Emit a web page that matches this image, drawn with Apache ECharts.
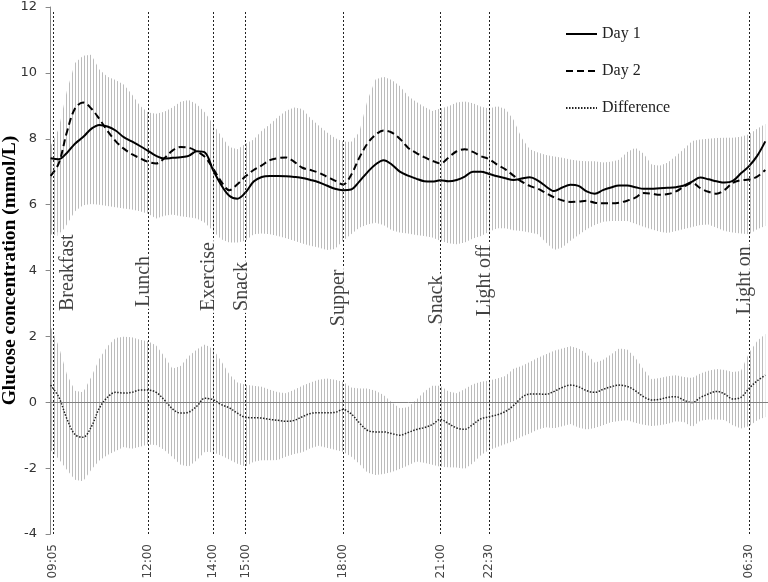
<!DOCTYPE html>
<html>
<head>
<meta charset="utf-8">
<script src="https://cdn.jsdelivr.net/npm/echarts@6/dist/echarts.min.js"></script>
<style>html,body{margin:0;padding:0;background:#fff}#chart{width:768px;height:582px}</style>
</head>
<body>
<div id="chart"></div>
<script>
// minutes after 09:00, sampled every 15 minutes
const times = [0,15,30,45,60,75,90,105,120,135,150,165,180,195,210,225,240,255,270,285,300,315,330,345,360,375,390,405,420,435,450,465,480,495,510,525,540,555,570,585,600,615,630,645,660,675,690,705,720,735,750,765,780,795,810,825,840,855,870,885,900,915,930,945,960,975,990,1005,1020,1035,1050,1065,1080,1095,1110,1125,1140,1155,1170,1185,1200,1215,1230,1245,1260,1275,1290,1305,1320];

const day1 = [7.41,7.38,7.57,7.85,8.05,8.30,8.42,8.37,8.25,8.05,
  7.92,7.78,7.63,7.48,7.40,7.42,7.44,7.48,7.62,7.58,
  7.05,6.60,6.27,6.18,6.37,6.70,6.84,6.87,6.87,6.86,
  6.84,6.81,6.75,6.68,6.58,6.48,6.44,6.46,6.70,6.98,
  7.22,7.35,7.22,7.00,6.88,6.79,6.71,6.70,6.74,6.71,
  6.75,6.85,7.00,7.00,6.93,6.86,6.80,6.75,6.79,6.83,
  6.73,6.55,6.41,6.52,6.60,6.57,6.40,6.33,6.44,6.52,
  6.58,6.58,6.53,6.48,6.48,6.50,6.51,6.53,6.58,6.70,
  6.82,6.77,6.71,6.67,6.72,6.95,7.17,7.48,7.92];

const day2 = [6.87,7.25,8.20,8.92,9.10,8.92,8.60,8.24,7.93,7.70,
  7.53,7.41,7.30,7.25,7.41,7.64,7.75,7.73,7.62,7.45,
  7.10,6.70,6.44,6.62,6.86,7.05,7.19,7.35,7.41,7.43,
  7.30,7.12,7.05,6.97,6.85,6.73,6.61,6.90,7.42,7.85,
  8.12,8.25,8.19,8.00,7.73,7.57,7.44,7.33,7.25,7.43,
  7.62,7.68,7.60,7.47,7.38,7.21,7.07,6.88,6.70,6.57,
  6.48,6.35,6.22,6.13,6.08,6.09,6.12,6.06,6.04,6.04,
  6.06,6.12,6.21,6.35,6.33,6.30,6.32,6.40,6.55,6.66,
  6.50,6.39,6.33,6.45,6.66,6.74,6.76,6.85,7.05];

const glucoseUpper = [7.78,8.30,9.45,10.30,10.52,10.55,10.10,9.88,9.78,9.65,
  9.35,9.00,8.80,8.76,8.82,8.95,9.12,9.18,9.05,8.80,
  8.45,8.08,7.75,7.68,7.85,7.98,8.24,8.44,8.66,8.85,
  8.95,8.90,8.62,8.40,8.20,8.02,7.92,7.90,8.20,9.15,
  9.80,9.88,9.78,9.60,9.30,9.12,8.97,8.84,8.92,8.99,
  9.10,9.13,9.08,8.97,8.92,8.99,8.90,8.58,8.02,7.68,
  7.58,7.51,7.46,7.42,7.37,7.33,7.32,7.32,7.28,7.30,
  7.36,7.60,7.73,7.55,7.22,7.18,7.28,7.48,7.70,7.93,
  7.98,8.00,8.02,8.03,8.03,8.06,8.14,8.30,8.45];

const glucoseLower = [5.10,5.05,5.40,5.80,5.98,6.02,6.00,5.96,5.92,5.88,
  5.85,5.80,5.72,5.58,5.66,5.70,5.65,5.62,5.58,5.45,
  5.20,4.95,4.85,4.85,4.90,5.10,5.12,5.10,5.05,4.98,
  4.90,4.82,4.75,4.70,4.62,4.65,4.90,5.10,5.30,5.40,
  5.45,5.38,5.22,5.15,5.12,5.08,5.05,5.00,4.90,4.83,
  4.80,4.85,4.97,5.05,5.18,5.28,5.28,5.22,5.20,5.15,
  5.10,4.85,4.62,4.70,4.90,5.08,5.25,5.38,5.48,5.50,
  5.50,5.50,5.42,5.33,5.25,5.18,5.14,5.20,5.26,5.32,
  5.38,5.40,5.30,5.20,5.15,5.12,5.10,5.25,5.35];

const difference = [0.52,0.16,-0.50,-0.98,-1.06,-0.75,-0.18,0.15,0.30,0.28,
  0.30,0.37,0.37,0.30,0.07,-0.20,-0.33,-0.30,-0.12,0.12,
  0.08,-0.07,-0.17,-0.33,-0.46,-0.47,-0.48,-0.52,-0.55,-0.58,
  -0.55,-0.44,-0.34,-0.32,-0.32,-0.31,-0.22,-0.35,-0.62,-0.85,
  -0.90,-0.90,-0.95,-1.00,-0.92,-0.83,-0.77,-0.68,-0.52,-0.65,
  -0.78,-0.82,-0.67,-0.50,-0.44,-0.38,-0.28,-0.10,0.14,0.25,
  0.25,0.24,0.33,0.45,0.52,0.47,0.35,0.30,0.39,0.47,
  0.52,0.48,0.35,0.17,0.07,0.09,0.15,0.17,0.06,-0.01,
  0.14,0.25,0.33,0.25,0.10,0.15,0.42,0.65,0.82];

const diffUpper = [2.30,1.70,0.85,0.35,0.30,0.77,1.32,1.70,1.95,1.99,
  1.97,1.90,1.85,1.72,1.40,1.02,1.10,1.40,1.60,1.75,
  1.62,1.25,0.85,0.60,0.53,0.50,0.47,0.38,0.30,0.27,
  0.38,0.50,0.60,0.68,0.72,0.68,0.62,0.45,0.42,0.42,
  0.35,0.22,0.00,-0.18,-0.15,0.07,0.32,0.50,0.50,0.33,
  0.27,0.40,0.55,0.62,0.66,0.72,0.80,1.02,1.10,1.22,
  1.35,1.46,1.56,1.63,1.70,1.63,1.48,1.20,1.28,1.45,
  1.63,1.60,1.35,1.00,0.70,0.74,0.79,0.82,0.77,0.74,
  0.87,0.96,1.01,0.98,0.92,0.95,1.50,1.86,2.07];

const diffLower = [-1.45,-1.72,-2.05,-2.35,-2.40,-2.05,-1.77,-1.60,-1.48,-1.36,
  -1.41,-1.35,-1.28,-1.30,-1.45,-1.66,-1.90,-1.95,-1.76,-1.50,
  -1.52,-1.62,-1.74,-1.87,-1.95,-1.81,-1.76,-1.76,-1.75,-1.65,
  -1.57,-1.52,-1.40,-1.32,-1.38,-1.44,-1.50,-1.65,-1.87,-2.13,
  -2.21,-2.18,-2.12,-2.03,-1.92,-1.80,-1.84,-1.90,-1.96,-1.97,
  -1.98,-2.02,-1.85,-1.60,-1.45,-1.36,-1.27,-1.18,-1.05,-0.95,
  -0.83,-0.76,-0.79,-0.73,-0.66,-0.77,-0.83,-0.78,-0.70,-0.61,
  -0.57,-0.55,-0.62,-0.68,-0.72,-0.70,-0.65,-0.58,-0.60,-0.75,
  -0.56,-0.52,-0.52,-0.54,-0.70,-0.80,-0.73,-0.55,-0.45];

const eventTimes = [5, 180, 300, 360, 540, 720, 810, 1290];
const eventNames = ['Breakfast', 'Lunch', 'Exercise', 'Snack', 'Supper', 'Snack', 'Light off', 'Light on'];
const eventLabelStart = [2.71, 2.83, 2.71, 2.71, 2.25, 2.30, 2.55, 2.60];
const tickTimes = [5, 180, 300, 360, 540, 720, 810, 1290];
const tickLabels = ['09:05', '12:00', '14:00', '15:00', '18:00', '21:00', '22:30', '06:30'];
const seriesNames = ['Day 1', 'Day 2', 'Difference'];
const yTicks = {min: -4, max: 12, step: 2};
const lineTop = 11.85;

// hatch pattern of thin vertical grey bars
const pat = document.createElement('canvas');
pat.width = 3; pat.height = 4;
const pctx = pat.getContext('2d');
pctx.fillStyle = '#bcbcbc';
pctx.fillRect(0, 0, 1, 4);
const hatch = {image: pat, repeat: 'repeat'};

const pairs = (arr) => times.map((t, i) => [t, arr[i]]);

function bandSeries(name, hi, lo) {
  return {
    type: 'custom', name: name, silent: true, z: 1,
    data: [[times[0], lo[0]]],
    renderItem: function (params, api) {
      const top = times.map((t, i) => api.coord([t, hi[i]]));
      const bottom = times.map((t, i) => api.coord([t, lo[i]])).reverse();
      return {type: 'polygon', shape: {points: top.concat(bottom)}, style: {fill: hatch, stroke: null}};
    }
  };
}

const chart = echarts.init(document.getElementById('chart'), null, {renderer: 'canvas'});
chart.setOption({
  animation: false,
  backgroundColor: '#fff',
  grid: {left: 49, right: 0, top: 7, bottom: 48, containLabel: false, outerBoundsMode: 'none'},
  legend: {
    data: seriesNames, orient: 'vertical', left: 565, top: 26, padding: 0,
    itemWidth: 31, itemHeight: 14, itemGap: 21,
    itemStyle: {opacity: 0},
    textStyle: {fontFamily: 'Liberation Serif', fontSize: 16, color: '#222'}
  },
  xAxis: {
    type: 'value', min: -3, max: 1325,
    axisLine: {show: false}, axisTick: {show: false}, splitLine: {show: false},
    axisLabel: {
      customValues: tickTimes, rotate: 90, margin: 10,
      formatter: (v) => { const k = tickTimes.indexOf(v); return k >= 0 ? tickLabels[k] : ''; },
      fontFamily: 'DejaVu Sans', fontSize: 12, color: '#444'
    }
  },
  yAxis: {
    type: 'value', min: yTicks.min, max: yTicks.max, interval: yTicks.step,
    axisLine: {show: true, lineStyle: {color: '#888'}},
    axisTick: {show: true, length: 5, lineStyle: {color: '#888'}},
    splitLine: {show: false},
    axisLabel: {fontFamily: 'DejaVu Sans', fontSize: 13, color: '#333', margin: 12},
    name: 'Glucose concentration (mmol/L)', nameLocation: 'middle', nameGap: 29, nameRotate: 90,
    nameMoveOverlap: false,
    nameTextStyle: {fontFamily: 'Liberation Serif', fontWeight: 'bold', fontSize: 19.5, color: '#000'}
  },
  series: [
    bandSeries('glucose band', glucoseUpper, glucoseLower),
    bandSeries('difference band', diffUpper, diffLower),
    {
      name: seriesNames[0], type: 'line', data: pairs(day1), symbol: 'none', smooth: 0.35, z: 4,
      itemStyle: {color: '#000'}, lineStyle: {color: '#000', width: 2}
    },
    {
      name: seriesNames[1], type: 'line', data: pairs(day2), symbol: 'none', smooth: 0.35, z: 4,
      itemStyle: {color: '#000'}, lineStyle: {color: '#000', width: 2, type: [7, 4]}
    },
    {
      name: seriesNames[2], type: 'line', data: pairs(difference), symbol: 'none', smooth: 0.35, z: 4,
      itemStyle: {color: '#222'}, lineStyle: {color: '#222', width: 1.5, type: [1.5, 1.5]},
      markLine: {
        silent: true, symbol: ['none', 'none'], label: {show: false},
        lineStyle: {color: '#808080', width: 1, type: 'solid'},
        data: [{yAxis: 0}]
      }
    },
    {
      name: 'events', type: 'scatter', z: 6, symbolSize: 1,
      itemStyle: {color: 'rgba(0,0,0,0)'},
      data: eventTimes.map((t, i) => ({
        value: [t, eventLabelStart[i]], name: eventNames[i],
        label: i === 0 ? {offset: [0, 14]} : {offset: [0, -4]}
      })),
      label: {
        show: true, position: 'inside', rotate: 90, align: 'left', verticalAlign: 'middle',
        formatter: (p) => p.name, fontFamily: 'Liberation Serif', fontSize: 20, color: '#111',
        backgroundColor: '#fff', padding: [0, 2]
      },
      markLine: {
        silent: true, symbol: ['none', 'none'], label: {show: false},
        lineStyle: {color: '#222', width: 1, type: [2, 2]},
        data: eventTimes.map((t) => [{coord: [t, yTicks.min]}, {coord: [t, lineTop]}])
      }
    }
  ]
});
</script>
</body>
</html>
